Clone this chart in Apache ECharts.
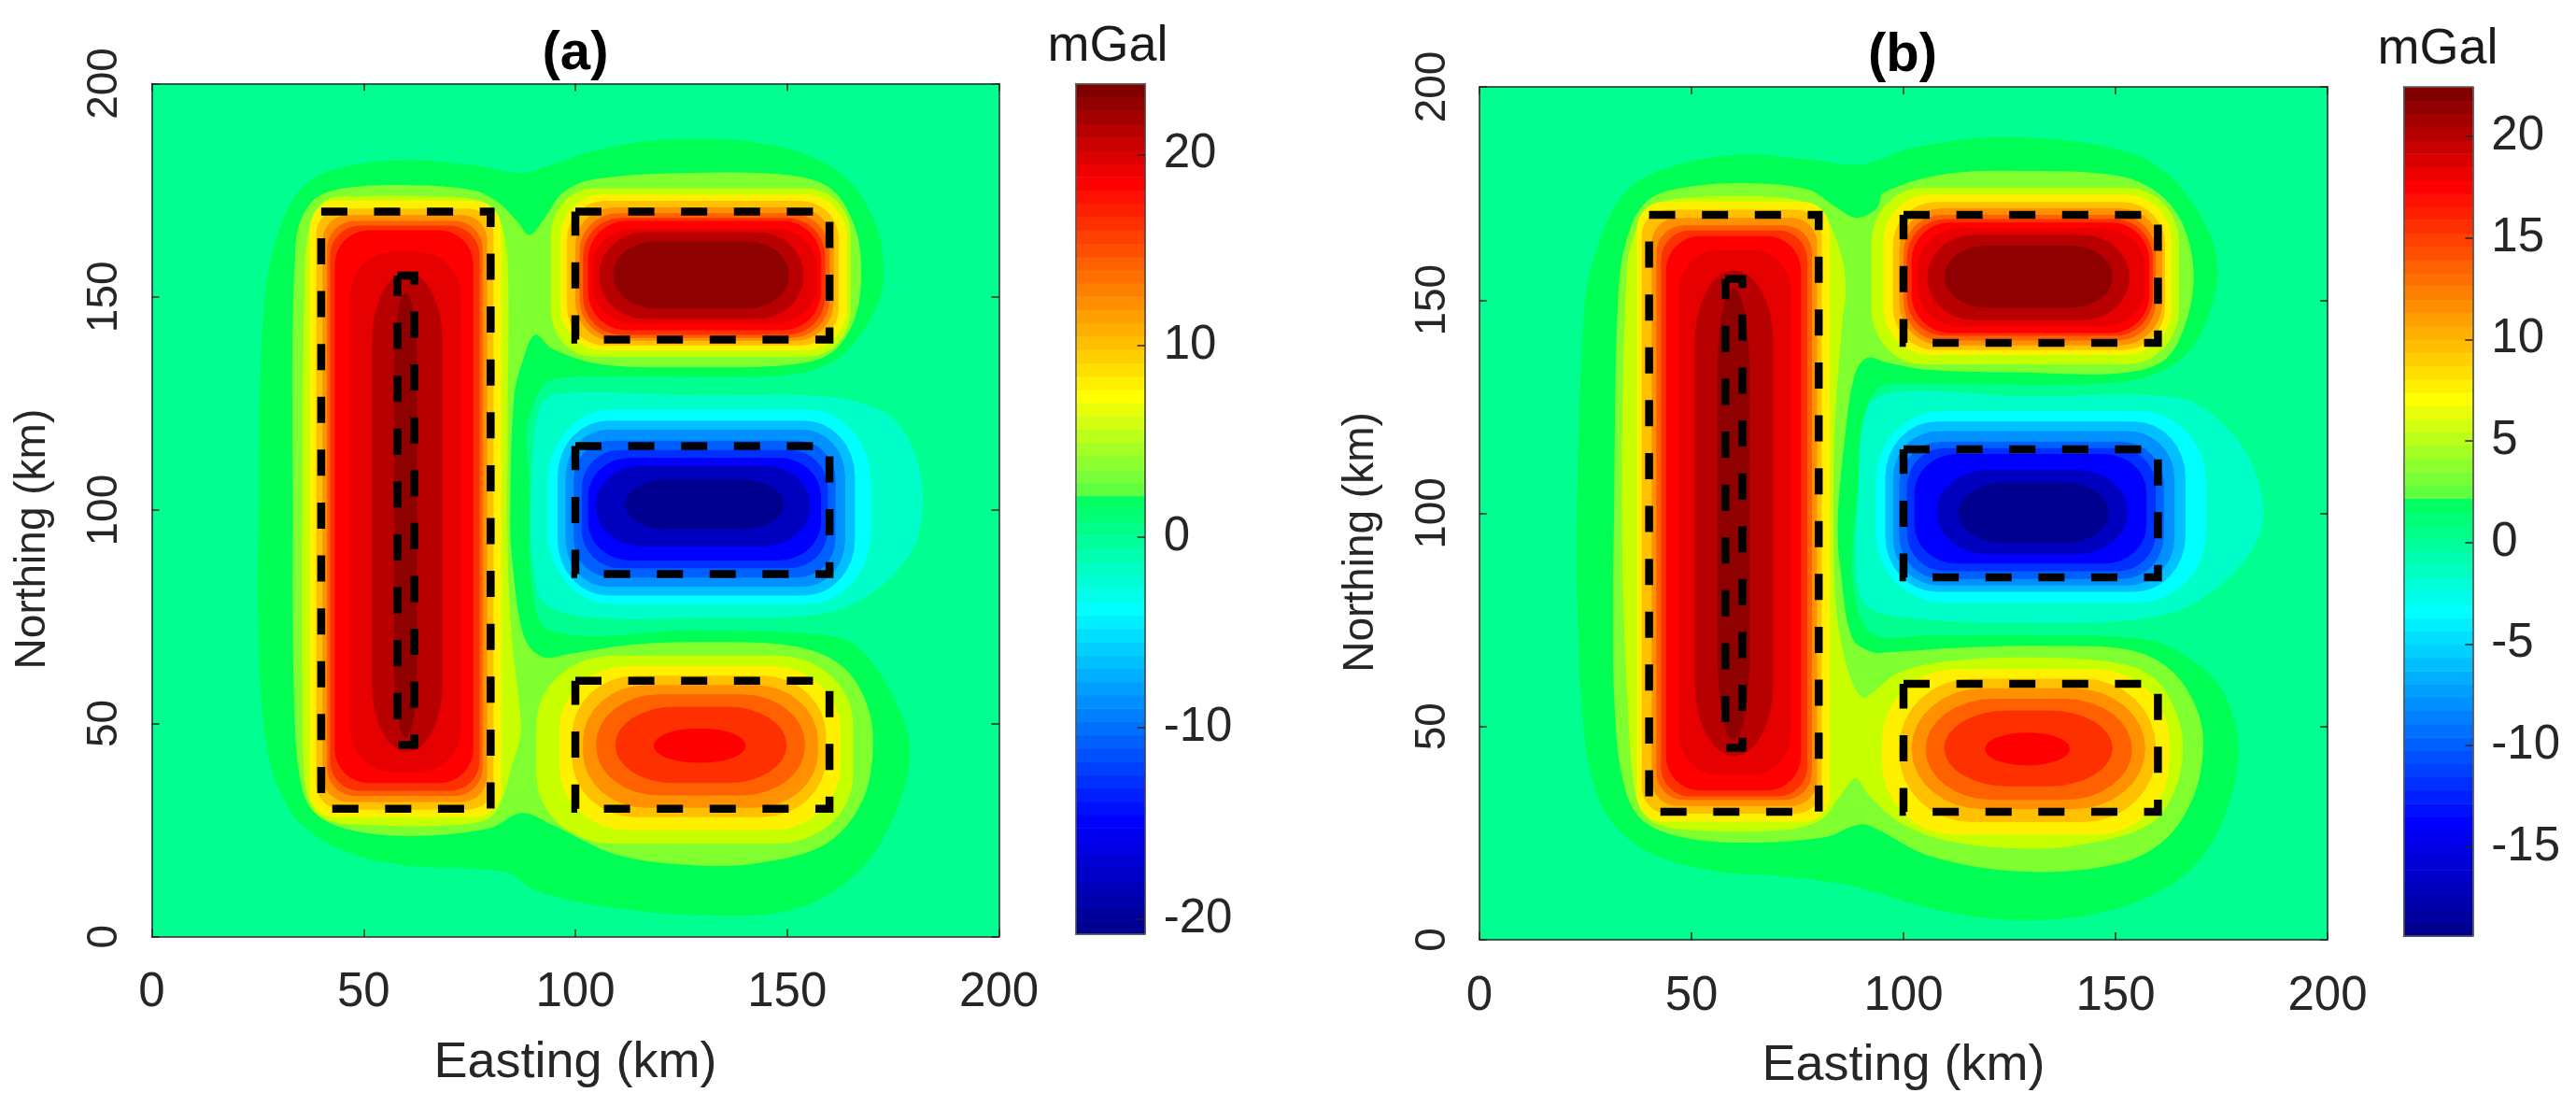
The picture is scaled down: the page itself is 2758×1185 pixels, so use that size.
<!DOCTYPE html>
<html><head><meta charset="utf-8">
<style>html,body{margin:0;padding:0;background:#fff}#c{width:2758px;height:1185px}</style>
<script src="https://cdn.jsdelivr.net/npm/echarts@6/dist/echarts.min.js"></script>
</head><body><div id="c"></div>
<script>
// ---- axes and labels
const axisTicks = [0, 50, 100, 150, 200];
const colorbarTicksA = [-20, -10, 0, 10, 20];
const colorbarTicksB = [-15, -10, -5, 0, 5, 10, 15, 20];
const colorbarRangeA = [-20.8, 23.7];
const colorbarRangeB = [-19.4, 22.43];
const xName = 'Easting (km)';
const yName = 'Northing (km)';
const unitName = 'mGal';

// ---- source outlines, km
const boxOuter = [[40,170],[80,170],[80,30],[40,30],[40,170]];
const boxInner = [[58,155],[62,155],[62,45],[58,45],[58,155]];
const boxTop = [[100,170],[160,170],[160,140],[100,140],[100,170]];
const boxMid = [[100,115],[160,115],[160,85],[100,85],[100,115]];
const boxLow = [[100,60],[160,60],[160,30],[100,30],[100,60]];

// ---- contour level colours (level number -> colour)
const levelKeys = [0,1,2,3,4,5,6,7,8,9,10,11,12,-1,-2,-3,-4,-5,-6,-7,-8,-9];
const levelHex = ['#00FF90','#00FF55','#80FF30','#C8FF00','#FFF000','#FFC000','#FF9000','#FF6000','#FF3000','#FF0000','#E60000','#B80000','#8F0000','#00FFC8','#00FFFF','#00C0FF','#0090FF','#0060FF','#0030FF','#0000FF','#0000C0','#000090'];

// ---- colorbar colour ramp stops: index, r, g, b
const rampStops = [[0,0,0,144],[8,0,0,255],[24,0,255,255],[32,0,255,96],[33,96,255,64],[40,255,255,0],[56,255,0,0],[63,128,0,0]];

// ---- panel (a): free-form contours [x,y] km, level in the name
const aLevel1 = [[25.2,99],[26.7,150],[31.8,170],[39.2,178.4],[57.5,182],[75.9,180.9],[87,179],[90.8,179.8],[106,184.6],[125,187],[147.8,185.3],[163,178.7],[170.6,167.8],[172.8,156.8],[171.3,148],[163.7,137],[155.4,132.7],[144,131.3],[113.6,131.3],[97,131],[92.3,129.1],[88.6,118.9],[89.3,104],[89.5,84.5],[94,71.8],[128.8,71.8],[159,70.7],[166.8,67.8],[174.4,57.5],[179,44.4],[175.9,29.8],[166.8,15.2],[151.6,6.4],[130.3,5],[106,7.2],[90.8,10.8],[83.3,15.2],[61.2,16.6],[46.5,19.6],[35.5,26.2],[29.6,35.6],[26.6,48],[25.2,70]];
const aLevel2 = [[33.3,99],[34,162.7],[37.7,172.2],[45,175.4],[61.2,176.2],[75.9,175],[81.8,172.2],[86.2,167.8],[89.2,164.5],[92.8,168.5],[96.9,174.3],[104.5,177.6],[128.8,179.1],[151.6,178.4],[160.7,175.1],[166,166.3],[167.5,156.1],[166,145.1],[160.7,137.1],[151.6,134.2],[128.8,133.5],[106,134.2],[94.6,137.8],[90.5,141.1],[87.8,135.7],[85.5,126.2],[84.6,97],[85.1,88.2],[87,73.6],[89.3,67.8],[93.1,65.4],[98.4,66.3],[113.6,68.5],[128.8,69.1],[151.6,68.1],[163,63.4],[169,54],[170.2,43],[167.5,31.3],[159.2,21.8],[144,17.4],[128.8,16.7],[109.8,19.2],[94.6,26.2],[87.4,29],[79.6,25.4],[61.2,23.6],[46.5,25.1],[38.4,29.1],[35.1,36.4],[33.6,55.4]];
const aLevel3 = [[35.5,99],[36,150],[37,165],[41,172.6],[50,173.6],[65,173.6],[76,172.8],[81,170],[83.5,163],[84.2,150],[84,120],[84,90],[85,70],[87,52],[87,47],[85,40],[83,33],[80,28],[72,26.2],[50,26.2],[41,27.5],[37.5,31],[36,38],[35.5,60]];
const aNegative1 = [[96.1,127.3],[128.8,126.9],[160,126.6],[172.8,123],[178.2,117.4],[181.6,108],[181.6,97],[179,89.7],[170.6,81],[159,75.8],[128.8,74.7],[102.2,75],[92.3,78.7],[90,88.2],[89.3,99],[89.7,108],[91.6,124]];

// ---- panel (a): nested rounded contours: level, xmin, xmax, ymin, ymax, corner x, corner y
const aPrism = [[4,37.3,82.5,28,172.5,6,6.5],[5,38.8,80.7,29.8,170.7,6,6],[6,40.3,79.2,31.6,169.2,6,6],[7,41.4,78.1,33,167.8,6.5,6.5],[8,42.1,77.4,34.2,166.7,7,7],[9,43.2,75.9,36,165.6,8,8],[10,46.9,73,38.6,160.5,10,10],[11,52,68.6,43.3,155.7,8.3,16],[12,57.2,62.7,46.6,151,2.75,18]];
const aTopLobe = [[3,94.2,165,136,175.4,10,11],[4,96.5,164.1,137.5,174,10,10],[5,98,162.2,138.6,172.5,9,9],[6,100,161,139.7,171,9,9],[7,101,160,140.4,169.6,9,9],[8,101.8,159,141.1,168.5,9,9],[9,103,158,142.2,167.8,9,9],[10,104,157,143.7,166,10,9],[11,105.6,153.9,144.8,165.2,11,10],[12,109,150.4,147.3,163,10,7.5]];
const aMidLobe = [[-2,93.5,169.8,78,123.6,15,17],[-3,95.8,166,80,121,12,13],[-4,97.7,163.7,82,118.9,10,11],[-5,99.6,161.4,84.2,116.3,9,9],[-6,101.5,159.6,86.4,114.1,9,9],[-7,103,158,88.2,112.3,10,9],[-8,104.9,155.4,91.5,110.5,11,9],[-9,111.7,149.3,95.5,107.2,10,5.8]];
const aLowLobe = [[3,90.8,165.6,21.8,65.9,18,16],[4,96.2,162.6,25,63.4,16,15],[5,99.2,159.2,28,61.2,15,14],[6,101.8,157.3,30.2,59,15,13],[7,104.9,154.2,33.1,56.8,15,11.5],[8,109.4,149.9,36,53.9,14,8.9],[9,118.5,140.2,40.8,48.8,10,4]];

// ---- panel (b): free-form contours
const bLevel1 = [[22.9,97.8],[24.8,148.9],[27.7,162],[33.6,174.5],[42.4,180.3],[60.7,184.1],[75.4,183.2],[87.1,181.8],[91.6,182.1],[102.6,185.8],[124.7,188.2],[150.4,185.4],[161.4,180.3],[169.5,170.8],[173.9,159.9],[172.8,148.9],[167.3,138],[157.7,132.1],[143,130.3],[113.7,130.3],[95.3,129.9],[91.6,125.5],[89.3,105],[88,85],[92.4,72],[106.3,71.4],[128.3,71.4],[157.7,70.3],[168,65.6],[175.3,58.3],[179,45.2],[176,29.8],[168.7,17.4],[157.7,10.1],[143,5.7],[126.9,4.6],[110,6.5],[91.6,11.6],[85.6,13.1],[70.5,15],[55.3,16.1],[40.2,20.4],[31.1,27.7],[26.5,38],[24.3,52.5],[23.1,78]];
const bLevel2 = [[31.7,98],[32.8,152.6],[35.4,166.4],[40.2,173.7],[49.7,176.6],[64.4,177.4],[77.6,175.9],[83.4,172.3],[88.9,169.3],[93.7,171.5],[95.3,175.2],[110,179.6],[128.3,180.3],[150.4,179.2],[159.9,175.2],[165.8,167.9],[168.4,156.2],[166.5,144.5],[161.4,135.8],[150.4,132.8],[128.3,133],[106.3,133.6],[96,135.4],[91.5,136.5],[88.6,132.8],[86.4,119.7],[84.5,97.8],[85.3,85.4],[87.9,70.8],[92.4,67.5],[96,67.4],[113.7,68.5],[135.7,68.9],[154,67.8],[163.6,62.7],[169.5,53.2],[170.6,43.7],[168,32.7],[161.4,23.3],[150.4,17.8],[128.3,16],[106.3,19.6],[91.6,26.9],[87.9,26.6],[81.8,24.1],[62.9,22.8],[47.7,24.1],[37.9,28.5],[33.7,38],[31.8,56.2],[31.5,78]];
const bLevel3 = [[33.6,98],[34.7,156.2],[36.9,166.4],[41.6,172.6],[60.7,174.3],[76.8,173],[82,168.6],[85.3,160.6],[86.4,152.6],[85.6,145.3],[83.8,119.7],[83.5,98],[84.1,78],[86.8,63.5],[90.2,56.8],[93.2,58.4],[99,62.7],[110,65.2],[128.3,66.2],[150.4,64.9],[159.2,61.2],[164.3,53.2],[165.9,44.4],[163.6,34.2],[157.7,26.9],[143,22.5],[128.3,21.4],[110,23.3],[99,27.6],[91.6,34.2],[88.7,37.9],[84.9,33.5],[80.3,28],[70.5,25.7],[47.7,25.9],[40.2,28.1],[36.8,34.3],[34.9,56.2]];
const bNegative1 = [[98.8,128.5],[128,127.4],[165,127],[176,120.4],[182.7,110.2],[184.9,99],[181.9,91.1],[174.6,83.1],[165,77.3],[150.4,74.7],[121,74.4],[102.6,75.4],[91.6,78],[89,85],[89.3,105],[91.5,124.8]];

// ---- panel (b): nested rounded contours
const bPrism = [[4,37.1,82.6,27.7,173,6,6.5],[5,38.3,80.7,29.6,171.2,6,6],[6,40.6,79.6,31.4,169.3,6,6],[7,41.7,78.4,32.8,167.5,6.5,6.5],[8,42.8,77.3,33.6,166.4,7,7],[9,44,75.8,35,165,8,8],[10,47,73.5,38.7,161.7,9,10],[11,50.8,69.3,43.1,157,9.2,17],[12,56.1,63.7,46.7,152.9,3.8,20]];
const bTopLobe = [[3,92.4,165,135,176.3,12,13],[4,95.3,163.2,137.2,174.8,11,11],[5,97.5,161.7,138.3,173,10,10],[6,99,161,139.4,171.5,10,10],[7,100,159.5,140.5,170,9,9],[8,100.8,158.8,141.6,169,9,9],[9,101.9,158,142.3,168.2,9,9],[10,103.4,157,143.8,166.8,10,9],[11,105.6,153.3,145.3,165.3,11,10],[12,109.6,149.3,148.2,162.8,10,7.3]];
const bMidLobe = [[-2,93.5,171.3,79.1,124,16,16],[-3,95.7,166.5,81.6,121.5,12,13],[-4,97.5,163.9,83.1,119.3,11,11],[-5,99,161.4,84.6,116.8,10,10],[-6,100.8,159.5,86.4,115.3,9,9],[-7,102.6,157.3,88.2,113.9,10,9],[-8,107.8,152.9,90.4,110.2,12,9.9],[-9,112.9,148.5,93,107.3,11,7.1]];
const bLowLobe = [[4,94.9,162.7,24.7,63.4,17,17],[5,99,159.5,27.6,61.2,17,16],[6,101.9,157,30.6,59,17,14],[7,105.2,153.9,32.8,56.5,16,11.8],[8,109.6,149.3,36,53.8,15,8.9],[9,119.2,139.2,40.9,48.6,10,3.8]];

// ---- layout (styling, separate from data)
const FONT = '"Liberation Sans", Arial, sans-serif';
const INK = '#262626';
const TICK_SIZE = 51, NAME_SIZE = 54, Y_TICK_SIZE = 46, Y_NAME_SIZE = 46;
const panelA = {outerBoundsMode:'none',left:162.5,top:89.5,width:907,height:913.2};
const barA = {outerBoundsMode:'none',left:1151.7,top:89.6,width:74,height:910.4};
const panelB = {outerBoundsMode:'none',left:1584,top:93,width:908,height:913};
const barB = {outerBoundsMode:'none',left:2573.3,top:93.2,width:74,height:909};

const colourOf = l => levelHex[levelKeys.indexOf(l)];
const rampColour = i => {
  let k = 0; while (k < rampStops.length - 2 && i >= rampStops[k+1][0]) k++;
  const a = rampStops[k], b = rampStops[k+1], t = Math.min(1,(i-a[0])/(b[0]-a[0]));
  return 'rgb(' + [1,2,3].map(c => Math.round(a[c]+(b[c]-a[c])*t)).join(',') + ')';
};
// outline of one rounded contour, still in km
const roundedOutline = ([, x0, x1, y0, y1, rx, ry]) => {
  const corners = [[x1-rx,y1-ry,0],[x0+rx,y1-ry,1],[x0+rx,y0+ry,2],[x1-rx,y0+ry,3]], pts = [];
  corners.forEach(([cx,cy,q]) => { for (let s = 0; s <= 8; s++) {
    const t = (q + s/8) * Math.PI/2; pts.push([cx + rx*Math.cos(t), cy + ry*Math.sin(t)]);
  }});
  return pts;
};
const freeForm = (level, pts) => ({level, pts, smooth: 0.35});
const nested = rows => rows.map(r => ({level:r[0], pts:roundedOutline(r), smooth:0}));
const ordered = list => list.slice().sort((p,q) => Math.abs(p.level) - Math.abs(q.level));
const frame = [[0,0],[200,0],[200,200],[0,200]];

const contoursA = ordered([{level:0,pts:frame,smooth:0}, freeForm(1,aLevel1), freeForm(2,aLevel2), freeForm(3,aLevel3), freeForm(-1,aNegative1),
  ...nested(aPrism), ...nested(aTopLobe), ...nested(aMidLobe), ...nested(aLowLobe)]);
const contoursB = ordered([{level:0,pts:frame,smooth:0}, freeForm(1,bLevel1), freeForm(2,bLevel2), freeForm(3,bLevel3), freeForm(-1,bNegative1),
  ...nested(bPrism), ...nested(bTopLobe), ...nested(bMidLobe), ...nested(bLowLobe)]);

const grids = [], xAxes = [], yAxes = [], series = [];
const line = {show:true, onZero:false, lineStyle:{color:INK, width:1.5}};
const barLine = c => ({show:true, onZero:false, lineStyle:{color:c, width:1.5}});
const bare = {axisTick:{show:false},axisLabel:{show:false},splitLine:{show:false}};

function addPanel(plot, bar, contours, range, barTicks) {
  const gp = grids.length;
  grids.push(plot, bar);
  const xi = xAxes.length, yi = yAxes.length;
  const base = {type:'value', min:0, max:200, interval:50, splitLine:{show:false}, z:10, axisLine:line,
    axisTick:{show:true, inside:true, length:8, lineStyle:{color:INK, width:1.5}}};
  xAxes.push(
    {...base, gridIndex:gp, position:'bottom', name:xName, nameLocation:'middle', nameGap:108,
      nameTextStyle:{fontFamily:FONT,fontSize:NAME_SIZE,color:INK},
      axisLabel:{fontFamily:FONT,fontSize:TICK_SIZE,color:INK,margin:35,customValues:axisTicks}},
    {...base, gridIndex:gp, position:'top', axisLabel:{show:false}},
    {...bare,type:'value',gridIndex:gp+1,min:0,max:1,position:'bottom',z:10,axisLine:barLine('#555')},
    {...bare,type:'value',gridIndex:gp+1,min:0,max:1,position:'top',z:10,axisLine:barLine('#555')}
  );
  yAxes.push(
    {...base, gridIndex:gp, position:'left', name:yName, nameLocation:'middle', nameGap:104,
      nameTextStyle:{fontFamily:FONT,fontSize:Y_NAME_SIZE,color:INK,padding:[0,62,0,0]},
      axisLabel:{fontFamily:FONT,fontSize:Y_TICK_SIZE,color:INK,margin:27,rotate:90,customValues:axisTicks}},
    {...base, gridIndex:gp, position:'right', axisLabel:{show:false}},
    {...bare,type:'value',gridIndex:gp+1,min:range[0],max:range[1],position:'left',z:10,axisLine:barLine('#555')},
    {type:'value',gridIndex:gp+1,min:range[0],max:range[1],position:'right',z:10,splitLine:{show:false},
      axisLine:barLine('#333'),
      axisTick:{show:true,inside:true,length:8,customValues:barTicks,lineStyle:{color:INK,width:1.5}},
      axisLabel:{fontFamily:FONT,fontSize:TICK_SIZE,color:INK,margin:20,customValues:barTicks}}
  );
  // filled contour bands
  series.push({type:'custom', xAxisIndex:xi, yAxisIndex:yi, clip:true, silent:true, z:2,
    data:contours.map((c,i)=>[i]),
    renderItem:(params, api) => {
      const c = contours[api.value(0)];
      return {type:'polygon', shape:{points:c.pts.map(p=>api.coord(p)), smooth:c.smooth}, style:{fill:colourOf(c.level)}};
    }});
  // source outlines
  [boxOuter, boxInner, boxTop, boxMid, boxLow].forEach(b => series.push({type:'line', xAxisIndex:xi, yAxisIndex:yi, data:b, z:5,
    symbol:'none', silent:true, clip:false, lineStyle:{color:'#000', width:8.5, type:[28,28.6], cap:'butt', join:'miter'}}));
  // colorbar
  const step = (range[1]-range[0])/64;
  series.push({type:'custom', xAxisIndex:xi+2, yAxisIndex:yi+2, silent:true, z:2,
    data:Array.from({length:64},(_,i)=>[i]),
    renderItem:(params, api) => {
      const i = api.value(0), a = api.coord([0,range[0]+i*step]), b = api.coord([1,range[0]+(i+1)*step]);
      return {type:'rect', shape:{x:a[0], y:b[1], width:b[0]-a[0], height:a[1]-b[1]+0.6}, style:{fill:rampColour(i)}};
    }});
}
addPanel(panelA, barA, contoursA, colorbarRangeA, colorbarTicksA);
addPanel(panelB, barB, contoursB, colorbarRangeB, colorbarTicksB);

const heading = (text,x,y,bold) => ({text, left:x, top:y, textAlign:'center', textVerticalAlign:'middle', padding:0,
  textStyle:{fontFamily:FONT,fontSize:bold?58:54,fontWeight:bold?'bold':'normal',color:bold?'#000':'#1a1a1a'}});

const chart = echarts.init(document.getElementById('c'), null, {renderer:'canvas'});
chart.setOption({animation:false, backgroundColor:'#fff',
  title:[heading('(a)',616,58,true), heading(unitName,1186,50,false), heading('(b)',2037,60,true), heading(unitName,2610,53,false)],
  grid:grids, xAxis:xAxes, yAxis:yAxes, series});
</script></body></html>
